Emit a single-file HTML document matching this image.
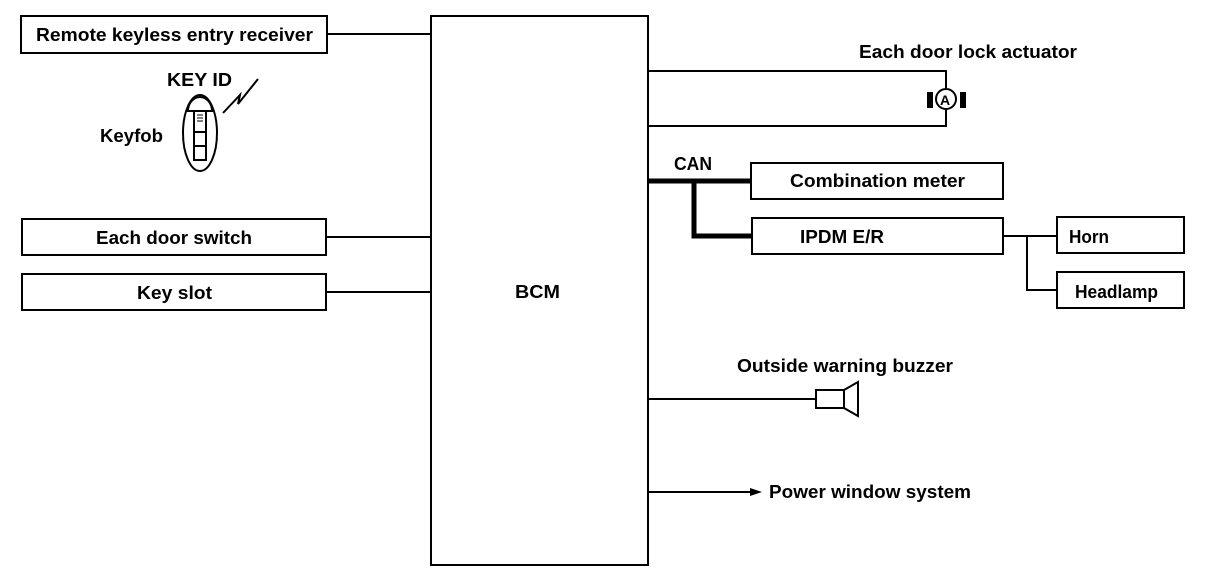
<!DOCTYPE html>
<html><head><meta charset="utf-8"><style>
html,body{margin:0;padding:0;background:#fff;}
svg text{font-family:"Liberation Sans",Arial,sans-serif;font-size:18px;font-weight:bold;fill:#000;}
</style></head><body>
<svg width="1216" height="582" viewBox="0 0 1216 582" xmlns="http://www.w3.org/2000/svg">
<g fill="none" stroke="#000" stroke-width="2">
<rect x="431" y="16" width="217" height="549"/>
<rect x="21" y="16" width="306" height="37"/>
<rect x="22" y="219" width="304" height="36"/>
<rect x="22" y="274" width="304" height="36"/>
<line x1="327" y1="34" x2="431" y2="34"/>
<line x1="326" y1="237" x2="431" y2="237"/>
<line x1="326" y1="292" x2="431" y2="292"/>
<ellipse cx="200" cy="133" rx="17" ry="38"/>
<path d="M188 111 A12 14 0 0 1 212 111 Z"/>
<rect x="194" y="111" width="12" height="49"/>
<line x1="194" y1="132" x2="206" y2="132"/>
<line x1="194" y1="146" x2="206" y2="146"/>
<line x1="197" y1="115" x2="203" y2="115" stroke-width="1"/>
<line x1="197" y1="118" x2="203" y2="118" stroke-width="1"/>
<line x1="197" y1="121" x2="203" y2="121" stroke-width="1"/>
<polyline points="223,113 240,95 238,104 258,79"/>
<polyline points="648,71 946,71 946,88"/>
<polyline points="648,126 946,126 946,110"/>
<circle cx="946" cy="99" r="10"/>
<polyline points="648,181 752,181" stroke-width="5"/>
<polyline points="694,181 694,236 752,236" stroke-width="5"/>
<rect x="751" y="163" width="252" height="36"/>
<rect x="752" y="218" width="251" height="36"/>
<line x1="1003" y1="236" x2="1057" y2="236"/>
<polyline points="1027,236 1027,290 1057,290"/>
<rect x="1057" y="217" width="127" height="36"/>
<rect x="1057" y="272" width="127" height="36"/>
<line x1="648" y1="399" x2="816" y2="399"/>
<rect x="816" y="390" width="28" height="18"/>
<polygon points="844,390 858,382 858,416 844,408"/>
<line x1="648" y1="492" x2="755" y2="492"/>
</g>
<rect x="927" y="92" width="6" height="16" fill="#000"/>
<rect x="960" y="92" width="6" height="16" fill="#000"/>
<polygon points="762,492 750,488 750,496" fill="#000"/>
<text x="940" y="105" style="font-size:14px">A</text>
<text x="36" y="41" textLength="277" lengthAdjust="spacingAndGlyphs">Remote keyless entry receiver</text>
<text x="96" y="244" textLength="156" lengthAdjust="spacingAndGlyphs">Each door switch</text>
<text x="137" y="299" textLength="75" lengthAdjust="spacingAndGlyphs">Key slot</text>
<text x="167" y="86" textLength="65" lengthAdjust="spacingAndGlyphs">KEY ID</text>
<text x="100" y="142" textLength="63" lengthAdjust="spacingAndGlyphs">Keyfob</text>
<text x="515" y="298" textLength="45" lengthAdjust="spacingAndGlyphs">BCM</text>
<text x="859" y="58" textLength="218" lengthAdjust="spacingAndGlyphs">Each door lock actuator</text>
<text x="674" y="170" textLength="38" lengthAdjust="spacingAndGlyphs">CAN</text>
<text x="790" y="187" textLength="175" lengthAdjust="spacingAndGlyphs">Combination meter</text>
<text x="800" y="243" textLength="84" lengthAdjust="spacingAndGlyphs">IPDM E/R</text>
<text x="1069" y="243" textLength="40" lengthAdjust="spacingAndGlyphs">Horn</text>
<text x="1075" y="298" textLength="83" lengthAdjust="spacingAndGlyphs">Headlamp</text>
<text x="737" y="372" textLength="216" lengthAdjust="spacingAndGlyphs">Outside warning buzzer</text>
<text x="769" y="498" textLength="202" lengthAdjust="spacingAndGlyphs">Power window system</text>
</svg>
</body></html>
